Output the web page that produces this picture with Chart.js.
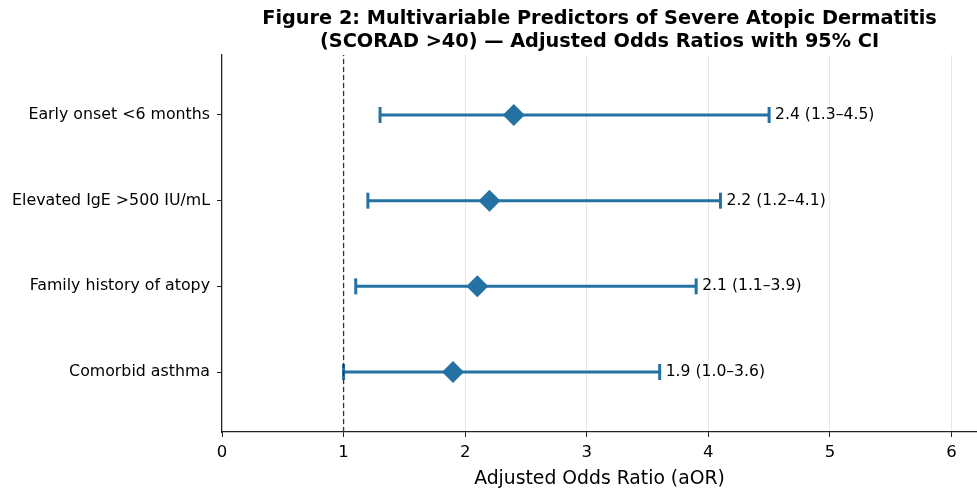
<!DOCTYPE html>
<html lang="en">
<head>
    <meta charset="UTF-8">
    <title>Figure 2: Forest plot</title>
    <script src="https://cdn.jsdelivr.net/npm/chart.js"></script>
    <style>
        html, body { margin: 0; padding: 0; background: #fff; }
        #wrap { width: 977px; height: 489px; }
    </style>
</head>
<body>
    <div id="wrap"><canvas id="chart" width="977" height="489"></canvas></div>

    <script>
        // top to bottom, as shown in the figure
        var categories = ['Early onset <6 months', 'Elevated IgE >500 IU/mL', 'Family history of atopy', 'Comorbid asthma'];
        var oddsRatios = [2.4, 2.2, 2.1, 1.9];
        var lowerCI = [1.3, 1.2, 1.1, 1.0];
        var upperCI = [4.5, 4.1, 3.9, 3.6];
        var xTicks = [0, 1, 2, 3, 4, 5, 6];

        var blue = '#2471a3';
        var font = 'DejaVu Sans';
        var n = categories.length;

        function rowY(i) { return n - 1 - i; }

        var datasets = [];

        // reference line at OR = 1
        datasets.push({
            data: [{ x: 1, y: -0.7 }, { x: 1, y: n - 1 + 0.7 }],
            showLine: true,
            borderColor: '#333',
            borderWidth: 1.3,
            borderDash: [5, 3],
            pointRadius: 0
        });

        // confidence intervals with caps
        categories.forEach(function(c, i) {
            datasets.push({
                data: [{ x: lowerCI[i], y: rowY(i) }, { x: upperCI[i], y: rowY(i) }],
                showLine: true,
                borderColor: blue,
                borderWidth: 3,
                pointStyle: 'line',
                rotation: 90,
                pointRadius: 8,
                pointBorderWidth: 3,
                pointBorderColor: blue
            });
        });

        // point estimates
        datasets.push({
            data: oddsRatios.map(function(v, i) { return { x: v, y: rowY(i) }; }),
            pointStyle: 'rectRot',
            pointRadius: 11,
            backgroundColor: blue,
            borderColor: blue,
            borderWidth: 0
        });

        var forestText = {
            id: 'forestText',
            afterDraw: function(chart) {
                var ctx = chart.ctx;
                var xs = chart.scales.x, ys = chart.scales.y;
                ctx.save();
                ctx.fillStyle = '#000';
                ctx.font = '15.6px "' + font + '"';
                ctx.textAlign = 'left';
                ctx.textBaseline = 'middle';
                categories.forEach(function(c, i) {
                    var label = oddsRatios[i].toFixed(1) + ' (' + lowerCI[i].toFixed(1) + '\u2013' + upperCI[i].toFixed(1) + ')';
                    ctx.fillText(label, xs.getPixelForValue(upperCI[i]) + 6, ys.getPixelForValue(rowY(i)));
                });
                // title centred over the plot area
                var cx = (chart.chartArea.left + chart.chartArea.right) / 2;
                ctx.textAlign = 'center';
                ctx.font = 'bold 19.3px "' + font + '"';
                ctx.fillText('Figure 2: Multivariable Predictors of Severe Atopic Dermatitis', cx, 19);
                ctx.fillText('(SCORAD >40) \u2014 Adjusted Odds Ratios with 95% CI', cx, 42);
                ctx.restore();
            }
        };

        new Chart(document.getElementById('chart'), {
            type: 'scatter',
            data: { datasets: datasets },
            plugins: [forestText],
            options: {
                responsive: false,
                animation: false,
                layout: { autoPadding: false, padding: { top: 55, right: 0, left: 0, bottom: 0 } },
                plugins: {
                    legend: { display: false },
                    tooltip: { enabled: false }
                },
                scales: {
                    x: {
                        type: 'linear',
                        min: 0,
                        max: 6.21,
                        afterBuildTicks: function(scale) {
                            scale.ticks = xTicks.map(function(v) { return { value: v }; });
                        },
                        afterFit: function(scale) {
                            scale.height = 57;
                            scale.paddingLeft = 0;
                            scale.paddingRight = 0;
                        },
                        grid: { color: '#e6e6e6', lineWidth: 1, tickColor: '#222', tickLength: 5 },
                        border: { color: '#222', width: 1.2 },
                        ticks: {
                            color: '#000',
                            font: { family: font, size: 16.5 },
                            padding: 6,
                            maxRotation: 0,
                            callback: function(v) { return v; }
                        },
                        title: {
                            display: true,
                            text: 'Adjusted Odds Ratio (aOR)',
                            color: '#000',
                            font: { family: font, size: 18.8 },
                            padding: { top: 4, bottom: -1 }
                        }
                    },
                    y: {
                        type: 'linear',
                        min: -0.7,
                        max: n - 1 + 0.7,
                        afterBuildTicks: function(scale) {
                            scale.ticks = categories.map(function(c, i) { return { value: rowY(i) }; });
                        },
                        afterFit: function(scale) {
                            scale.width = 222;
                            scale.paddingTop = 0;
                            scale.paddingBottom = 0;
                        },
                        grid: { drawOnChartArea: false, tickColor: '#222', tickLength: 5 },
                        border: { color: '#222', width: 1.2 },
                        ticks: {
                            color: '#000',
                            font: { family: font, size: 15.8 },
                            padding: 7,
                            callback: function(v) { return categories[n - 1 - v]; }
                        }
                    }
                }
            }
        });
    </script>
</body>
</html>
